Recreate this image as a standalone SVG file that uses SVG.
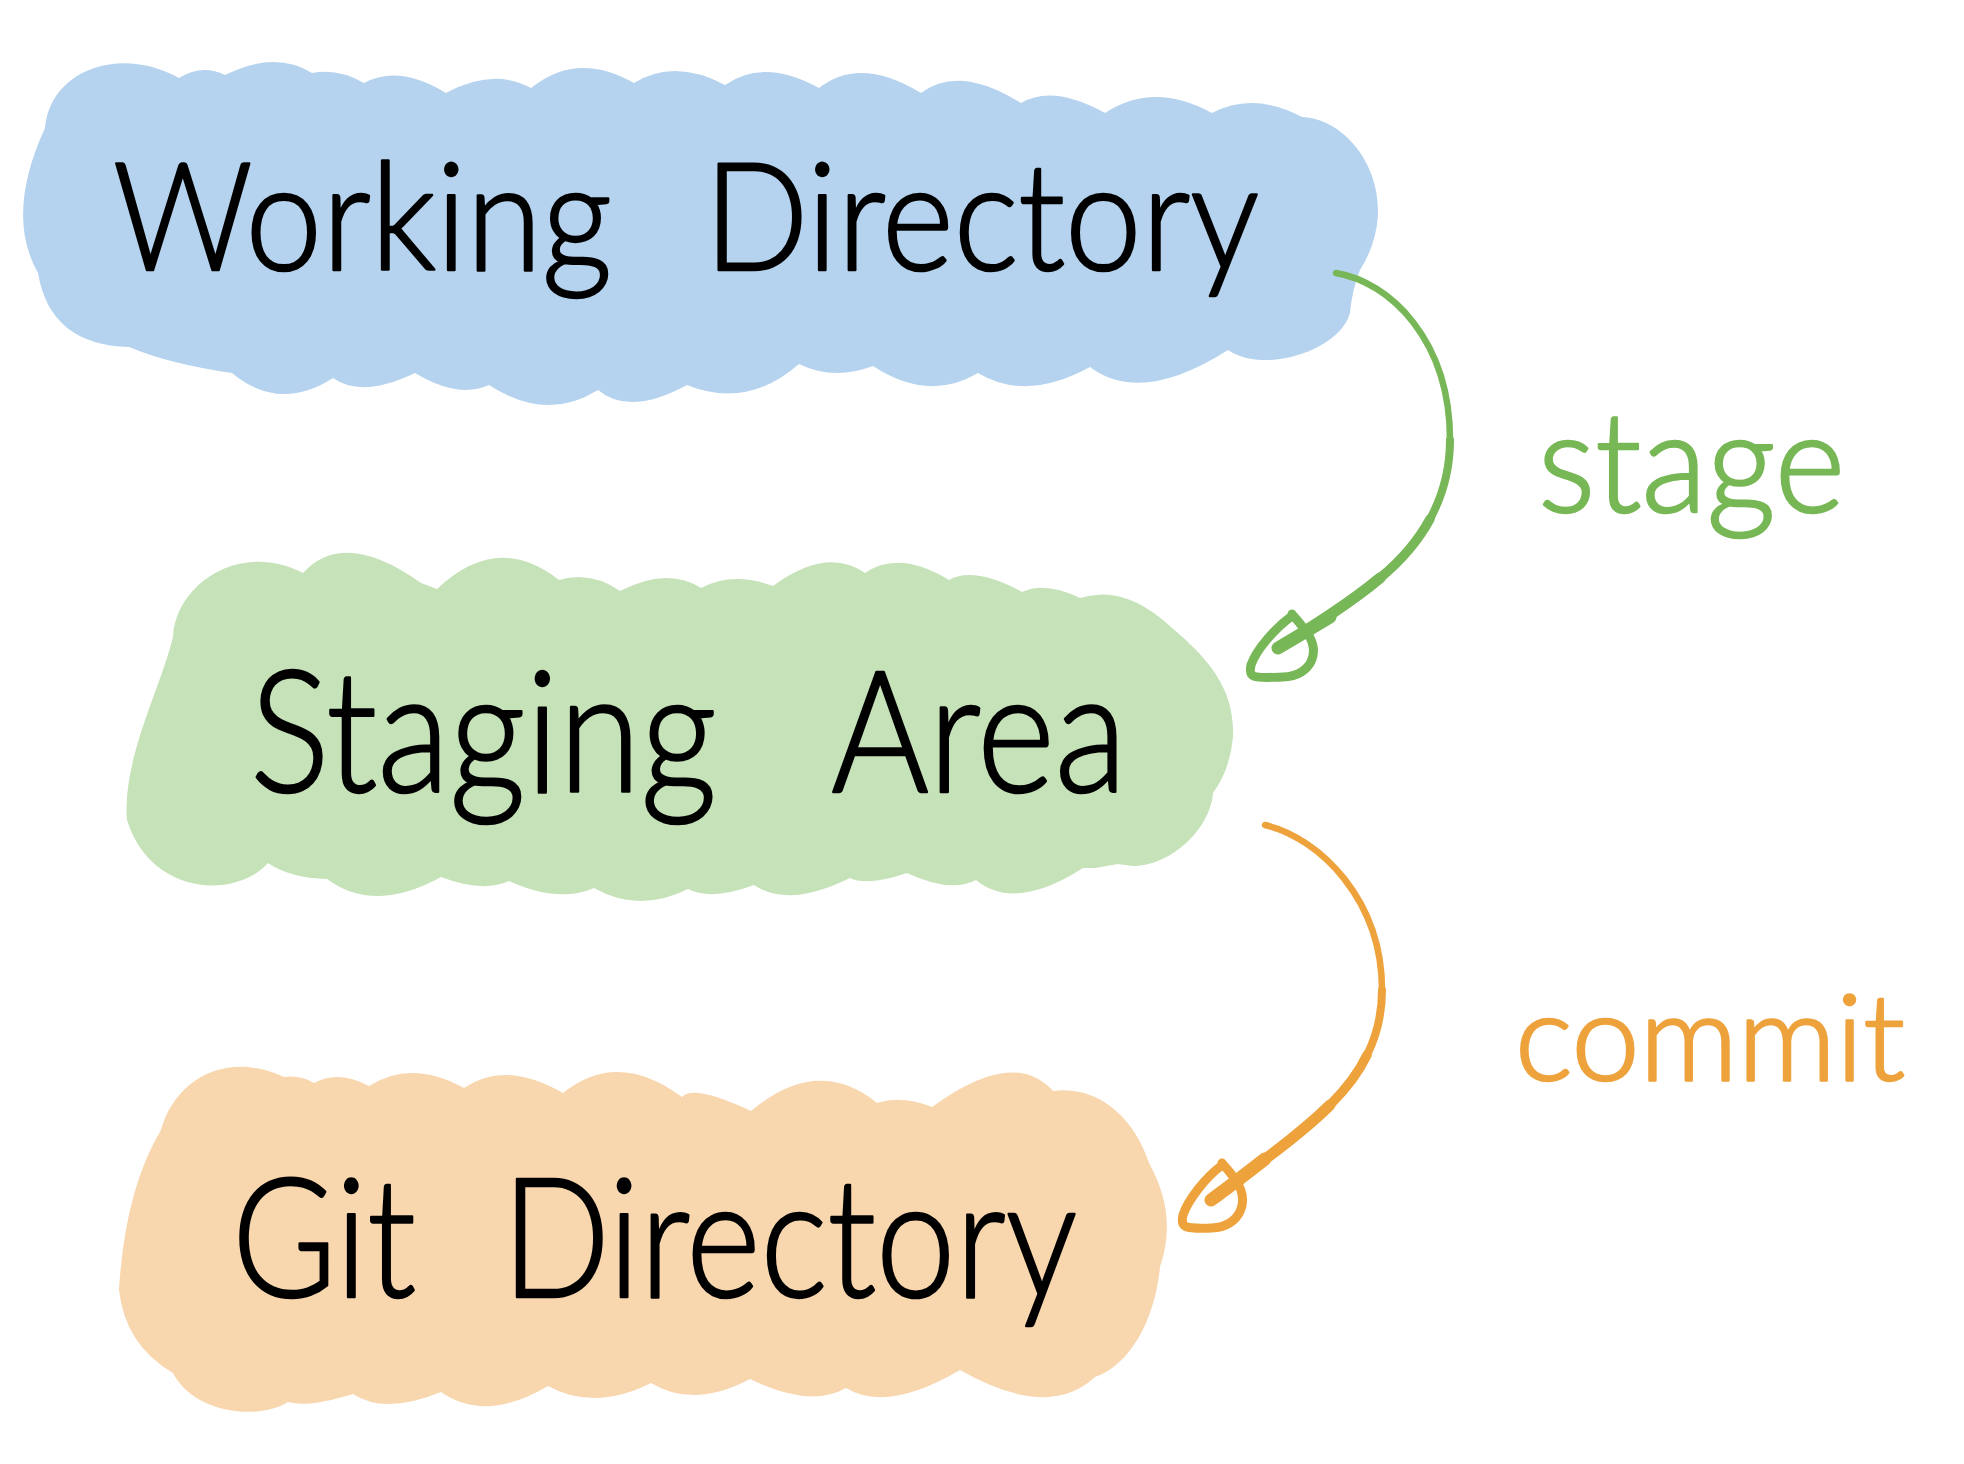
<svg xmlns="http://www.w3.org/2000/svg" width="1964" height="1464" viewBox="0 0 1964 1464">
<style>
.title{font-family:Lato,"Liberation Sans",sans-serif;font-weight:300;fill:#000;stroke:#000;stroke-width:2.5;stroke-linejoin:round}
.lbl{font-family:Lato,"Liberation Sans",sans-serif;font-weight:300;stroke-width:2.5;stroke-linejoin:round}
.edge{fill:none;stroke-linecap:round;stroke-linejoin:round}
.g{stroke:#78b757}
.o{stroke:#eea23c}
</style>
<rect width="1964" height="1464" fill="#ffffff"/>
<g id="working-directory">
<path fill="#b5d3ee" d="M45,128 C50,70 120,45 179,78 Q202,63.5 225,75 Q275.5,50 312,73 Q338,68 364,83 Q399,64 446,93 Q493.5,67.5 531,88 Q577.5,50.5 634,83 Q674.5,58 725,85 Q764,57.5 819,88 Q860,55.5 921,93 Q959,64 1021,103 Q1053,84 1105,113 Q1153.5,81 1212,113 Q1253,91 1302,117 C1340,118 1380,160 1378,215 Q1376,245 1360,270 Q1352,290 1350,313 C1340,350 1265,375 1228,350 Q1141,405.5 1090,367 Q1026,402 978,373 Q928.5,402.5 873,366 Q834,381 799,364 Q747,409.5 687,385 Q629.5,416.5 598,390 Q546.5,422.5 489,385 Q458,399 415,373 Q362,398.5 333,378 Q279.5,412.5 232,373 Q169.5,364 129,347 Q50,345 38,273 Q5,215 45,128 Z"/>
<text class="title" x="113" y="270" font-size="150" word-spacing="60" textLength="1146" lengthAdjust="spacingAndGlyphs">Working Directory</text>
</g>
<g id="staging-area">
<path fill="#c6e2b9" d="M173,637 C175,585 240,540 303,573 Q344,528 421,583 L437,589 Q498,531.5 559,580 Q590.5,570.5 620,591 Q667.5,566.5 701,588 Q733,571 773,586 Q827,546.5 865,573 Q899,549.5 949,580 Q974.5,566 1022,592 Q1045,581 1080,598 Q1124.5,583.5 1171,627 C1210,660 1235,690 1233,737 Q1230,770 1213,793 C1210,830 1170,866 1133,866 L1118,864 L1095,868 L1083,868 Q1014.5,912 976,880 Q950.5,893.5 907,873 Q867.5,886.5 850,878 Q788,908.5 754,885 Q711,901 688,889 Q639,913.5 594,888 Q558.5,903.5 509,881 Q483,893 441,877 Q374,914 327,879 Q290,878 268,863 C235,900 150,895 127,820 C122,760 160,690 173,637 Z"/>
<text class="title" x="250" y="792" font-size="170" word-spacing="90" textLength="877" lengthAdjust="spacingAndGlyphs">Staging Area</text>
</g>
<g id="git-directory">
<path fill="#f8d6ae" d="M161,1130 C175,1080 225,1050 284,1077 Q300,1075 314,1083 Q338.5,1069.5 369,1086 Q411.5,1059 464,1088 Q504.5,1059.5 563,1093 Q617.5,1049 682,1097 Q693.5,1084 751,1111 Q818,1055 877,1103 Q901.5,1095 932,1107 Q1013.5,1047 1053,1091 C1100,1085 1135,1120 1149,1163 Q1178,1215 1160,1267 C1155,1320 1130,1365 1095,1377 Q1048.5,1420.5 960,1370 Q887,1413 846,1388 Q810,1408.5 750,1379 Q693.5,1409 651,1383 Q594.5,1411.5 548,1386 Q485.5,1423 441,1392 Q385,1415 353,1394 Q307.5,1408 288,1402 C260,1420 195,1415 173,1373 Q125,1345 119,1290 Q125,1190 161,1130 Z"/>
<text class="title" x="232" y="1297" font-size="165" word-spacing="55" textLength="845" lengthAdjust="spacingAndGlyphs">Git Directory</text>
</g>
<g id="connectors">
<g id="edge-stage">
<path class="edge g" stroke-width="6.5" d="M1336,273 C1390,282 1450,340 1450,440 C1450,500 1420,545 1380,578 C1350,603 1310,628 1278,648"/>
<path class="edge g" stroke-width="8" d="M1450,440 C1450,470 1442.5,496 1430,519 C1417.5,542 1400,561.5 1380,578 C1350,603 1310,628 1278,648"/>
<path class="edge g" stroke-width="9.5" d="M1430,519 C1417.5,542 1400,561.5 1380,578 C1350,603 1310,628 1278,648"/>
<path class="edge g" stroke-width="11" d="M1380,578 C1350,603 1310,628 1278,648"/>
<path class="edge g" stroke-width="13" d="M1330,617 C1312,628 1295,638 1278,648"/>
<path class="edge g" stroke-width="9" d="M1292,616 C1275,628 1256,650 1251,665 C1248,679 1254,678 1283,677 C1312,676 1323,650 1304,629 C1300,623 1296,619 1292,614"/>
</g>
<g id="edge-commit">
<path class="edge o" stroke-width="6.5" d="M1265,825 C1320,838 1382,900 1382,990 C1382,1040 1360,1075 1330,1105 C1300,1135 1250,1170 1211,1200"/>
<path class="edge o" stroke-width="8" d="M1382,990 C1382,1015 1376.5,1036 1367,1055 C1358,1074 1345,1090 1330,1105 C1300,1135 1250,1170 1211,1200"/>
<path class="edge o" stroke-width="9.5" d="M1367,1055 C1358,1074 1345,1090 1330,1105 C1300,1135 1250,1170 1211,1200"/>
<path class="edge o" stroke-width="11" d="M1330,1105 C1300,1135 1250,1170 1211,1200"/>
<path class="edge o" stroke-width="13" d="M1265,1159 C1247,1173 1229,1187 1211,1200"/>
<path class="edge o" stroke-width="9" d="M1221,1166 C1205,1178 1188,1200 1183,1215 C1180,1228 1185,1229 1212,1228 C1240,1227 1252,1200 1234,1178 C1230,1172 1226,1168 1222,1163"/>
</g>
<g id="label-stage">
<text class="lbl" x="1538" y="512" font-size="140" fill="#77b755" stroke="#77b755" textLength="307" lengthAdjust="spacingAndGlyphs">stage</text>
</g>
<g id="label-commit">
<text class="lbl" x="1515" y="1080" font-size="120" fill="#eea23c" stroke="#eea23c" textLength="390" lengthAdjust="spacingAndGlyphs">commit</text>
</g>
</g>
</svg>
